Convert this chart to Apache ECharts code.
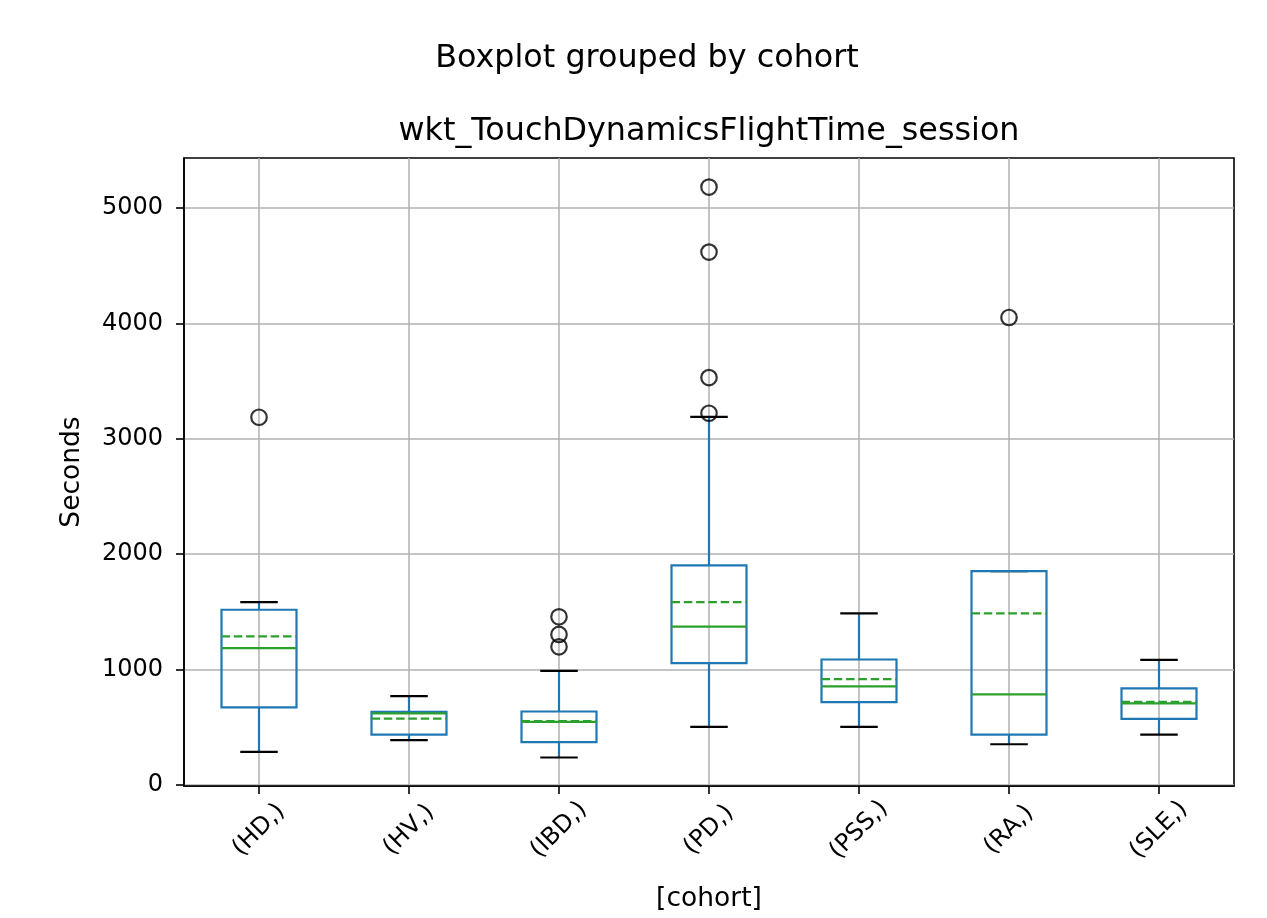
<!DOCTYPE html>
<html>
<head>
<meta charset="utf-8">
<script src="https://cdn.jsdelivr.net/npm/echarts@6/dist/echarts.min.js"></script>
<style>
html,body{margin:0;padding:0;background:#fff;}
#chart{width:1267px;height:918px;}
</style>
</head>
<body>
<div id="chart"></div>
<script>
// ---- data ----
const categories  = ['(HD,)', '(HV,)', '(IBD,)', '(PD,)', '(PSS,)', '(RA,)', '(SLE,)'];
const whiskerLow  = [285, 386, 236, 502, 502, 351, 435];
const q1          = [670, 435, 369, 1054, 716, 435, 571];
const median      = [1184, 618, 545, 1370, 852, 783, 705];
const q3          = [1517, 632, 635, 1902, 1086, 1852, 835];
const whiskerHigh = [1583, 768, 988, 3189, 1485, 1852, 1083];
const means       = [1286, 574, 551, 1584, 915, 1485, 719];
const outliers    = [[3186], [], [1196, 1303, 1456], [3221, 3530, 4618, 5182], [], [4051], []];
const yTicks      = [0, 1000, 2000, 3000, 4000, 5000];

const FONT = 'DejaVu Sans';
const BLUE = '#1f77b4', GREEN = '#2ca02c', LW = 2.2;

const boxData = categories.map((c, i) => [i, whiskerLow[i], q1[i], median[i], q3[i], whiskerHigh[i], means[i]]);
const outlierData = [];
outliers.forEach((arr, i) => arr.forEach(v => outlierData.push([i, v])));
const xTicks = categories.map((c, i) => i);

const chart = echarts.init(document.getElementById('chart'), null, {renderer: 'canvas'});

function renderBox(params, api) {
  const i = api.value(0);
  const band = api.size([1, 0])[0];
  const half = band * 0.25, capHalf = band * 0.125;
  const x = api.coord([i, 0])[0];
  const yLo = api.coord([i, api.value(1)])[1];
  const yQ1 = api.coord([i, api.value(2)])[1];
  const yMed = api.coord([i, api.value(3)])[1];
  const yQ3 = api.coord([i, api.value(4)])[1];
  const yHi = api.coord([i, api.value(5)])[1];
  const yMean = api.coord([i, api.value(6)])[1];
  const blue = {stroke: BLUE, lineWidth: LW, fill: null};
  return {
    type: 'group',
    children: [
      {type: 'line', shape: {x1: x, y1: yQ1, x2: x, y2: yLo}, style: blue},
      {type: 'line', shape: {x1: x, y1: yQ3, x2: x, y2: yHi}, style: blue},
      {type: 'line', shape: {x1: x - capHalf, y1: yLo, x2: x + capHalf, y2: yLo}, style: {stroke: '#000', lineWidth: LW}},
      {type: 'line', shape: {x1: x - capHalf, y1: yHi, x2: x + capHalf, y2: yHi}, style: {stroke: '#000', lineWidth: LW}},
      {type: 'rect', shape: {x: x - half, y: yQ3, width: half * 2, height: yQ1 - yQ3}, style: {stroke: BLUE, lineWidth: LW, fill: null}},
      {type: 'line', shape: {x1: x - half, y1: yMed, x2: x + half, y2: yMed}, style: {stroke: GREEN, lineWidth: LW}},
      {type: 'line', shape: {x1: x - half, y1: yMean, x2: x + half, y2: yMean}, style: {stroke: GREEN, lineWidth: LW, lineDash: [8.5, 3.8]}}
    ]
  };
}

const option = {
  animation: false,
  backgroundColor: '#ffffff',
  title: [
    {text: 'Boxplot grouped by cohort', left: 647, top: 43, textAlign: 'center', padding: 0,
     textStyle: {fontFamily: FONT, fontSize: 31.8, fontWeight: 'normal', color: '#000'}},
    {text: 'wkt_TouchDynamicsFlightTime_session', left: 709, top: 116, textAlign: 'center', padding: 0,
     textStyle: {fontFamily: FONT, fontSize: 31.8, fontWeight: 'normal', color: '#000'}}
  ],
  grid: {left: 184, right: 33, top: 158, bottom: 132, show: true, borderColor: '#000', borderWidth: 1.6, containLabel: false},
  xAxis: {
    type: 'value', min: -0.5, max: 6.5, splitNumber: 7,
    name: '[cohort]', nameLocation: 'middle', nameGap: 100,
    nameTextStyle: {fontFamily: FONT, fontSize: 26.5, color: '#000'},
    axisLine: {show: true, onZero: false, lineStyle: {color: '#000', width: 1.6}},
    axisTick: {show: true, length: 8, lineStyle: {color: '#000', width: 1.6}, customValues: xTicks},
    axisLabel: {customValues: xTicks, rotate: 45, align: 'center', verticalAlign: 'middle', margin: 44,
      fontFamily: FONT, fontSize: 24, color: '#000',
      formatter: v => (Number.isInteger(v) && categories[v]) ? categories[v] : ''},
    splitLine: {show: true, lineStyle: {color: '#b0b0b0', width: 1.5}}
  },
  yAxis: {
    type: 'value', min: -11, max: 5434,
    name: 'Seconds', nameLocation: 'middle', nameGap: 98,
    nameTextStyle: {fontFamily: FONT, fontSize: 26.5, color: '#000'},
    axisLine: {show: true, onZero: false, lineStyle: {color: '#000', width: 1.6}},
    axisTick: {show: true, length: 8, lineStyle: {color: '#000', width: 1.6}, customValues: yTicks},
    axisLabel: {customValues: yTicks, margin: 21, fontFamily: FONT, fontSize: 24, color: '#000',
      formatter: v => String(v)},
    splitLine: {show: true, lineStyle: {color: '#b0b0b0', width: 1.5}}
  },
  series: [
    {type: 'custom', renderItem: renderBox, data: boxData, encode: {x: 0, y: [1, 2, 3, 4, 5, 6]}, z: 3},
    {type: 'scatter', data: outlierData, symbol: 'circle', symbolSize: 15.5, z: 4,
     itemStyle: {color: 'rgba(0,0,0,0)', borderColor: '#000', borderWidth: 2.2}}
  ]
};
chart.setOption(option);
</script>
</body>
</html>
